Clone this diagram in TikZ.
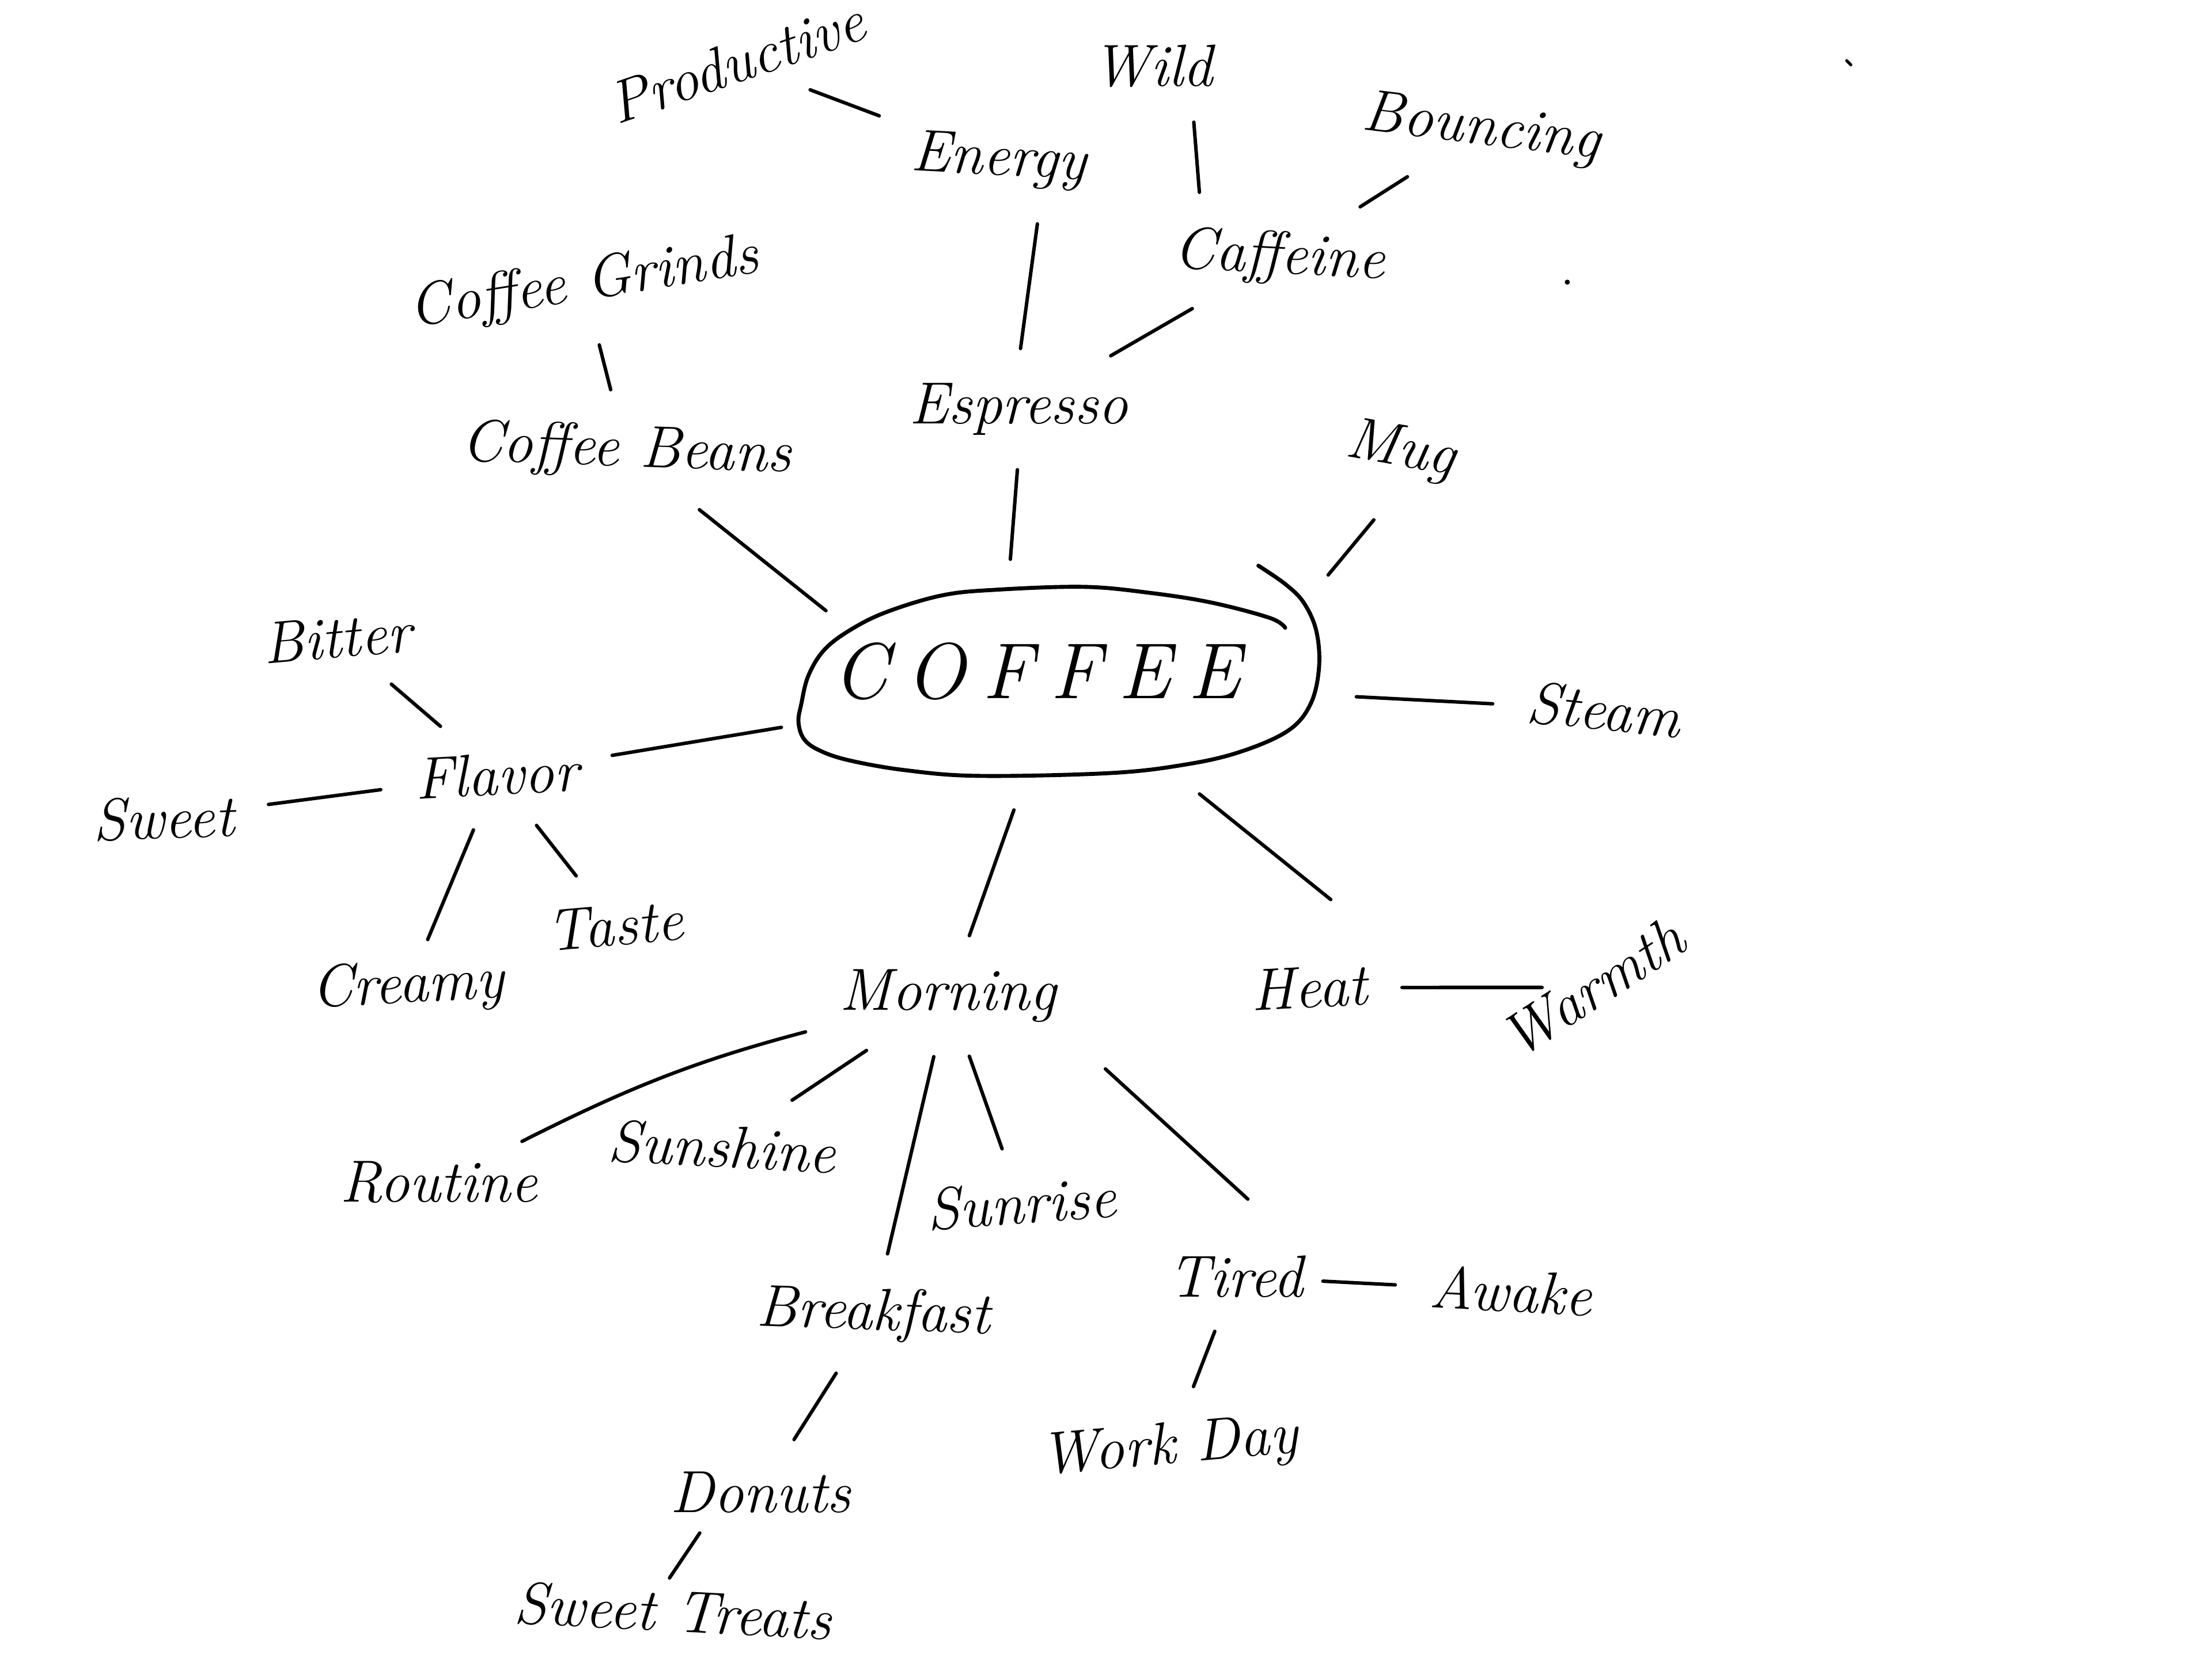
\documentclass[tikz,border=0pt]{standalone}
\usetikzlibrary{calc,shapes.geometric}
\begin{document}
\begin{tikzpicture}[x=1cm,y=1cm,
  word/.style={font=\fontsize{12}{14}\selectfont\itshape, inner sep=1pt, outer sep=3pt},
  link/.style={line width=0.7pt, line cap=round, shorten <=3pt, shorten >=3pt},
  blob/.style={line width=0.8pt, line cap=round}]
\useasboundingbox[fill=white] (0,0) rectangle (15.68,-11.76);

% central blob
\node[draw=none, ellipse, minimum width=3.75cm, minimum height=1.36cm, outer sep=4pt] (coffee) at (7.51,-4.83) {};
\node[draw=none, rectangle, minimum width=3.72cm, minimum height=1.38cm, inner sep=0pt, outer sep=0pt] (coffeebox) at (7.51,-4.82) {};
\node[font=\fontsize{16}{18}\selectfont\itshape] (coffeetext) at (7.35,-4.76) {C\hspace{3.5pt}O\hspace{3.5pt}F\hspace{3.5pt}F\hspace{3.5pt}E\hspace{3.5pt}E};
\draw[blob] plot[smooth, tension=0.6] coordinates {
 (8.92,-4.01) (9.11,-4.14) (9.24,-4.27) (9.33,-4.47) (9.35,-4.73) (9.29,-4.99)
 (9.13,-5.18) (8.79,-5.33) (8.40,-5.42) (7.87,-5.48) (6.94,-5.50) (6.42,-5.46)
 (6.02,-5.39) (5.81,-5.32) (5.70,-5.24) (5.66,-5.12) (5.68,-4.99) (5.73,-4.79)
 (5.84,-4.61) (6.02,-4.47) (6.28,-4.34) (6.68,-4.22) (7.07,-4.18) (7.68,-4.16)
 (8.13,-4.20) (8.58,-4.27) (9.00,-4.38) (9.11,-4.45)};

% words
\node[word, rotate=19] (productive) at (5.22,-0.44) {Productive};
\node[word, rotate=-3] (energy) at (7.08,-1.14) {Energy};
\node[word] (wild) at (8.17,-0.47) {Wild};
\node[word, rotate=-7] (bouncing) at (10.50,-0.92) {Bouncing};
\node[word, rotate=-3] (caffeine) at (9.07,-1.83) {Caffeine};
\node[word, rotate=9] (grinds) at (4.14,-2.02) {Coffee Grinds};
\node[word, rotate=-2] (beans) at (4.44,-3.20) {Coffee Beans};
\node[word] (espresso) at (7.22,-2.90) {Espresso};
\node[word, rotate=-10] (mug) at (9.93,-3.20) {Mug};
\node[word, rotate=-6] (steam) at (11.37,-5.03) {Steam};
\node[word, rotate=5] (bitter) at (2.39,-4.52) {Bitter};
\node[word, rotate=3] (flavor) at (3.52,-5.49) {Flavor};
\node[word, rotate=2] (sweet) at (1.16,-5.80) {Sweet};
\node[word, rotate=5] (taste) at (4.36,-6.56) {Taste};
\node[word, rotate=3] (creamy) at (2.89,-7.00) {Creamy};
\node[word] (morning) at (6.72,-7.06) {Morning};
\node[word, rotate=3] (heat) at (9.28,-7.00) {Heat};
\node[word, rotate=33] (warmth) at (11.29,-7.00) {Warmth};
\node[word] (routine) at (3.11,-8.38) {Routine};
\node[word, rotate=-3] (sunshine) at (5.12,-8.13) {Sunshine};
\node[word, rotate=4] (sunrise) at (7.24,-8.53) {Sunrise};
\node[word, rotate=-2] (breakfast) at (6.19,-9.32) {Breakfast};
\node[word] (tired) at (8.76,-9.05) {Tired};
\node[word, rotate=-3] (awake) at (10.71,-9.15) {Awake};
\node[word, rotate=5] (workday) at (8.29,-10.27) {Work Day};
\node[word] (donuts) at (5.39,-10.58) {Donuts};
\node[word, rotate=-3] (treats) at (4.77,-11.42) {Sweet Treats};

% connectors
\draw[link] (productive) -- (energy);
\draw[link] ($(energy.south)!0.4!(energy.south east)$) -- (espresso.north);
\draw[link] ($(wild.south)!0.5!(wild.south east)$) -- ($(caffeine.north west)!0.35!(caffeine.north)$);
\draw[link] (bouncing) -- (caffeine);
\draw[link] (caffeine) -- (espresso);
\draw[link] (grinds) -- (beans);
\draw[link] (beans) -- ($(coffee.north west)!0.25!(coffee.west)$);
\draw[link] (espresso.south) -- ($(coffee.north)!0.25!(coffee.north west)$);
\draw[link, shorten <=6pt, shorten >=2pt] (mug.south) -- (coffeebox.north east);
\draw[link] (coffee) -- (steam);
\draw[link] (flavor) -- (coffee);
\draw[link] (bitter) -- (flavor);
\draw[link] (sweet) -- (flavor);
\draw[link] (flavor) -- (taste);
\draw[link, shorten >=0pt] (flavor) -- (creamy);
\draw[link] (morning) -- (coffee);
\draw[link, shorten >=14pt] (coffee) -- (heat.north east);
\draw[link, shorten >=-5pt] (heat) -- (warmth);
\draw[link, shorten >=0pt] (morning) to[bend right=6] (routine);
\draw[link] (morning) -- (sunshine);
\draw[link] (morning) -- (sunrise);
\draw[link] (morning) -- (breakfast);
\draw[link, shorten <=8pt, shorten >=11pt] (morning.south east) -- ($(tired.north)!0.6!(tired.north east)$);
\draw[link, shorten <=0pt] (tired) -- (awake);
\draw[link] (tired) -- (workday);
\draw[link] (breakfast) -- (donuts);
\draw[link, shorten <=0pt, shorten >=-2pt] ($(donuts.south west)!0.45!(donuts.south)$) -- (treats.north);

% stray marks
\fill (11.11,-2.00) circle (0.018);
\draw[line width=0.6pt, line cap=round] (13.09,-0.43) -- (13.12,-0.46);
\end{tikzpicture}
\end{document}
